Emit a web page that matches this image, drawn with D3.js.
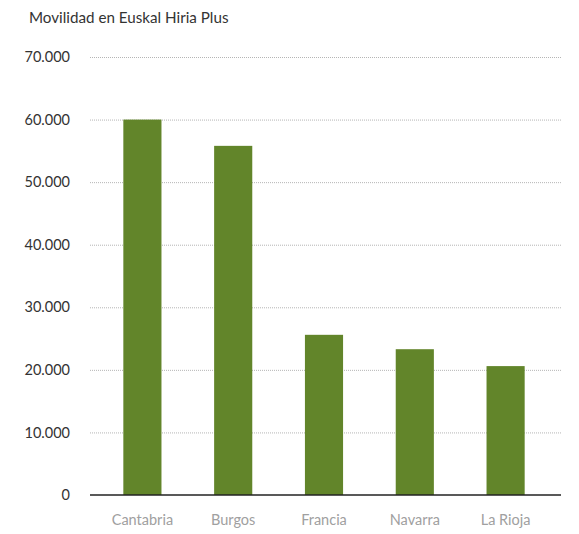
<!DOCTYPE html>
<meta charset="utf-8">
<script src="https://d3js.org/d3.v7.min.js"></script>
<style>
body { margin: 0; background: #fff; }
text { font-family: Lato, "Open Sans", sans-serif; }
.grid line { stroke: #b5b5b5; stroke-dasharray: 1,1; }
.grid .domain { display: none; }
.yaxis .domain, .yaxis line { display: none; }
.xaxis .domain, .xaxis line { display: none; }
</style>
<body>
<div id="canvas"></div>
<script>
// datos
var categories = ["Cantabria", "Burgos", "Francia", "Navarra", "La Rioja"];
var values = [60000, 55800, 25600, 23300, 20600];
var yTicks = [0, 10000, 20000, 30000, 40000, 50000, 60000, 70000];

var width = 579, height = 534;

var svg = d3.select("#canvas").append("svg")
    .attr("width", width)
    .attr("height", height);

var fmt = function(d) { return d3.format(",")(d).replace(/,/g, "."); };

var y = d3.scaleLinear().domain([0, 70000]).range([495, 57]);
var x = d3.scaleBand().domain(categories).range([97, 551]).paddingInner(0.58).paddingOuter(0.29);

// titulo
svg.append("text")
    .attr("x", 29).attr("y", 23)
    .attr("font-size", 15.2)
    .attr("fill", "#333")
    .text("Movilidad en Euskal Hiria Plus");

// lineas de la rejilla
svg.append("g")
    .attr("class", "grid")
    .attr("transform", "translate(90,0)")
    .call(d3.axisLeft(y).tickValues(yTicks.filter(function(d){ return d > 0; })).tickSize(-471).tickFormat(""));

// eje Y
svg.append("g")
    .attr("class", "yaxis")
    .attr("transform", "translate(73,0)")
    .call(d3.axisLeft(y).tickValues(yTicks).tickSize(0).tickFormat(fmt))
    .selectAll("text")
    .attr("font-size", 14.5)
    .attr("fill", "#333");

// barras
svg.selectAll(".bar")
    .data(values)
    .enter().append("rect")
    .attr("class", "bar")
    .attr("x", function(d, i) { return x(categories[i]); })
    .attr("width", x.bandwidth())
    .attr("y", function(d) { return y(d); })
    .attr("height", function(d) { return y(0) - y(d); })
    .attr("fill", "#62852a");

// linea base
svg.append("line")
    .attr("x1", 90).attr("x2", 561)
    .attr("y1", y(0)).attr("y2", y(0))
    .attr("stroke", "#222").attr("stroke-width", 1.5);

// eje X
svg.append("g")
    .attr("class", "xaxis")
    .attr("transform", "translate(0," + (y(0) + 17) + ")")
    .call(d3.axisBottom(x).tickSize(0))
    .selectAll("text")
    .attr("font-size", 14.5)
    .attr("fill", "#a0a0a0");
</script>
</body>
